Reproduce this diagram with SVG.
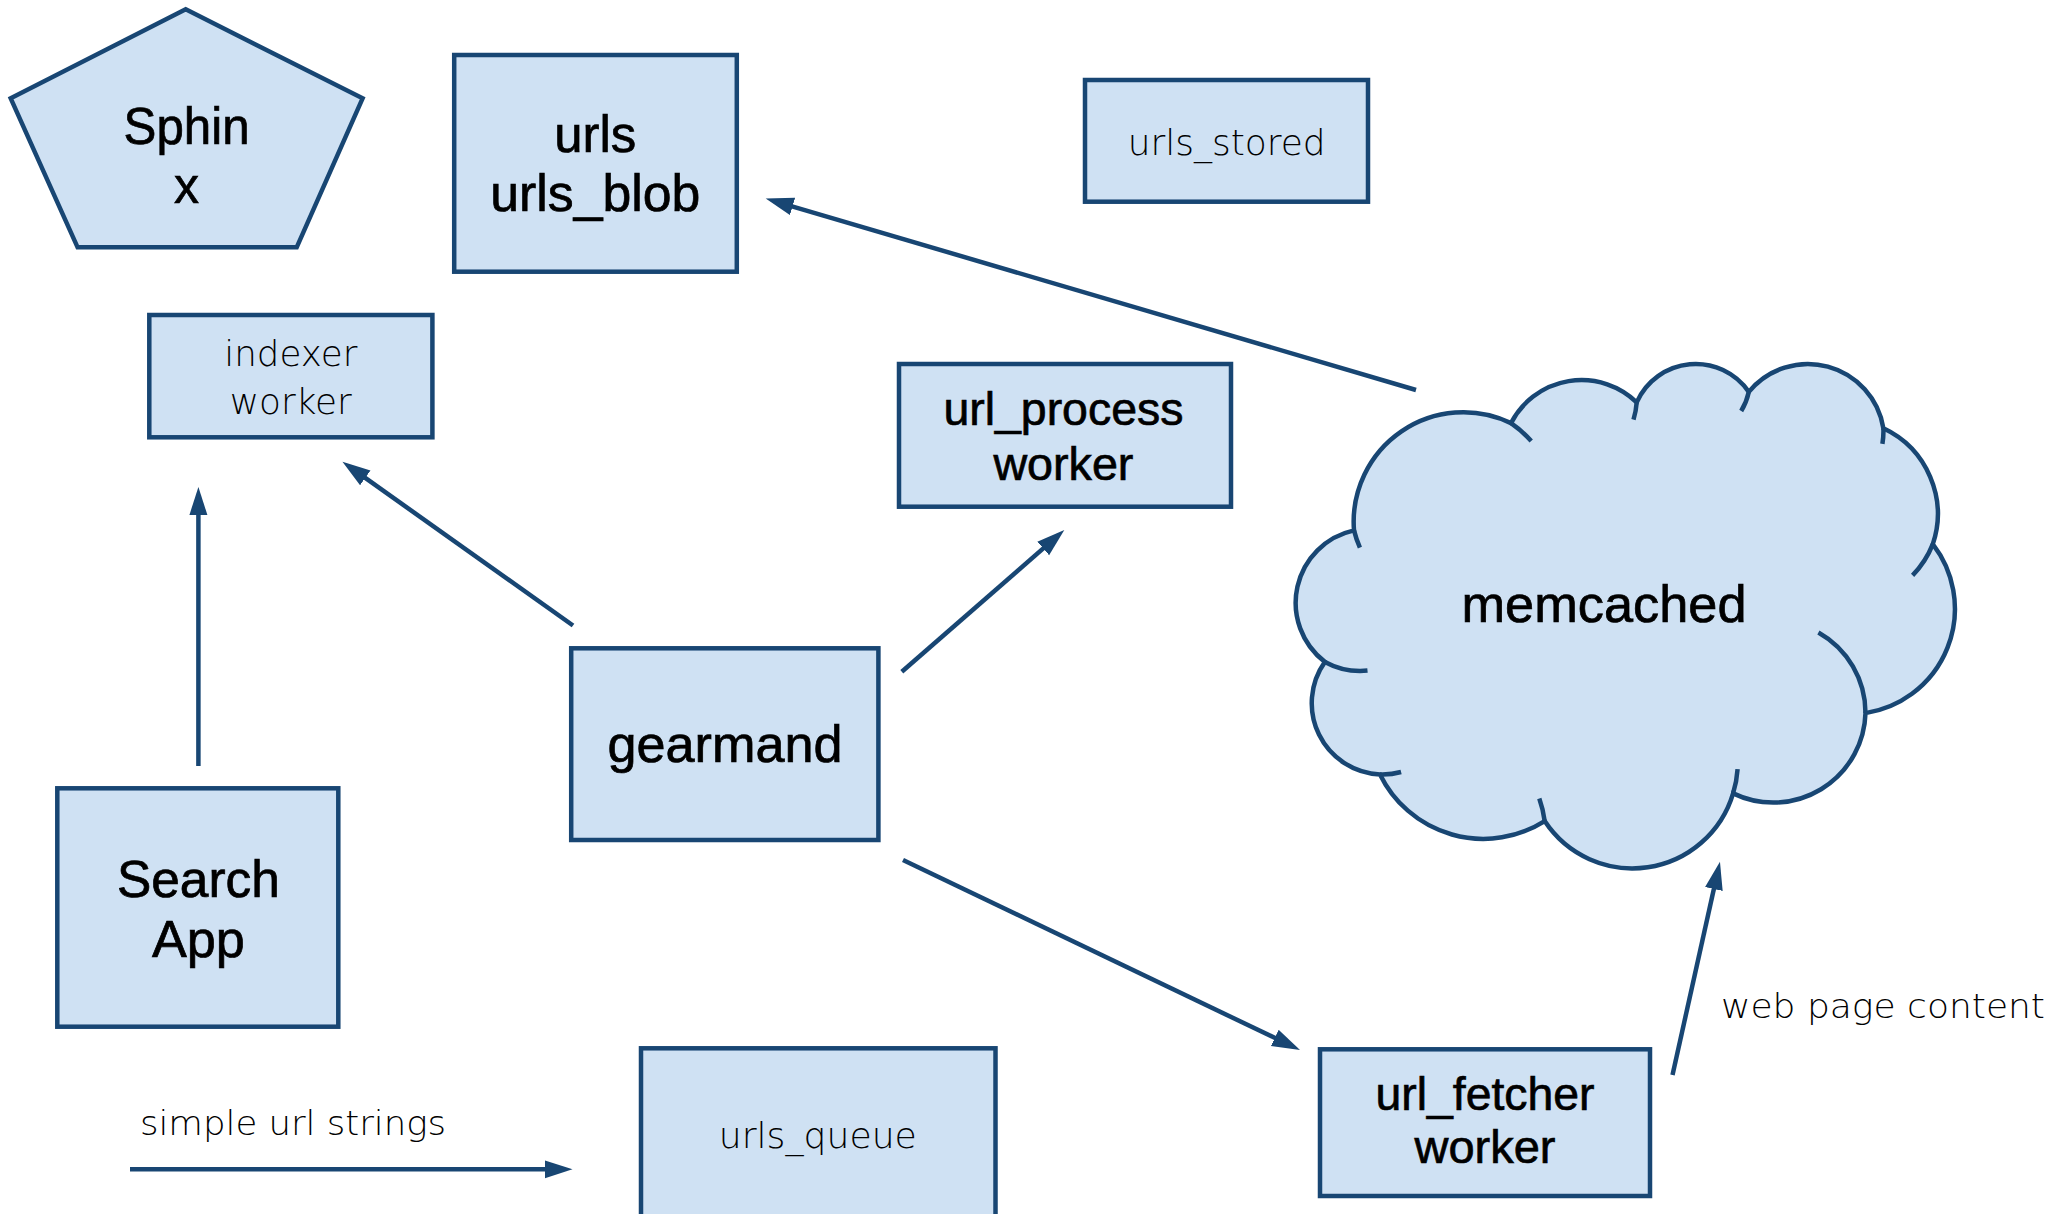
<svg xmlns="http://www.w3.org/2000/svg" width="2063" height="1214" viewBox="0 0 2063 1214">
<style>
.shape{fill:#cfe1f3;stroke:#184673;stroke-width:4.5;stroke-linejoin:miter}
.tick{fill:none;stroke:#184673;stroke-width:4.5;stroke-linecap:butt}
.main{font-family:"Liberation Sans",Arial,sans-serif;font-size:52px;fill:#000;stroke:#000;stroke-width:0.7;text-anchor:middle}
.mid{font-family:"Liberation Sans",Arial,sans-serif;font-size:47px;fill:#000;stroke:#000;stroke-width:0.7;text-anchor:middle}
.light{font-family:"DejaVu Sans",sans-serif;font-weight:300;font-size:35px;fill:#000;text-anchor:middle}
.lbl{font-family:"DejaVu Sans",sans-serif;font-weight:300;font-size:34px;fill:#000}
.conn{fill:none;stroke:#184673;stroke-width:4.5}
</style>
<defs>
<marker id="ah" markerUnits="userSpaceOnUse" markerWidth="30" markerHeight="20" refX="13" refY="9" orient="auto">
<path d="M0,0 L28,9 L0,18 z" fill="#184673"/>
</marker>
</defs>
<rect width="2063" height="1214" fill="#fff"/>
<g id="sphinx">
<polygon class="shape" points="185.7,9.3 362.6,98.3 296.7,247.3 77.6,247.3 10.7,98.3"/>
<text class="main" x="186.6" y="144" textLength="126" lengthAdjust="spacingAndGlyphs">Sphin</text>
<text class="main" x="186.6" y="203.3" textLength="25" lengthAdjust="spacingAndGlyphs">x</text>
</g>
<g id="urls_blob">
<rect class="shape" x="454.2" y="55" width="282.6" height="216.7"/>
<text class="main" x="595.3" y="151.7" textLength="82" lengthAdjust="spacingAndGlyphs">urls</text>
<text class="main" x="595.3" y="210.7" textLength="210" lengthAdjust="spacingAndGlyphs">urls_blob</text>
</g>
<g id="urls_stored">
<rect class="shape" x="1085" y="80" width="283" height="121.7"/>
<text class="light" x="1226.7" y="155" textLength="198" lengthAdjust="spacingAndGlyphs">urls_stored</text>
</g>
<g id="indexer_worker">
<rect class="shape" x="149.3" y="315" width="283.1" height="122.3"/>
<text class="light" x="290.8" y="365.7" textLength="133" lengthAdjust="spacingAndGlyphs">indexer</text>
<text class="light" x="290.8" y="414.3" textLength="122" lengthAdjust="spacingAndGlyphs">worker</text>
</g>
<g id="url_process_worker">
<rect class="shape" x="899" y="364" width="332" height="142.7"/>
<text class="mid" x="1063.4" y="425" textLength="240" lengthAdjust="spacingAndGlyphs">url_process</text>
<text class="mid" x="1063.4" y="480" textLength="140" lengthAdjust="spacingAndGlyphs">worker</text>
</g>
<g id="gearmand">
<rect class="shape" x="571.2" y="648.3" width="307.2" height="191.7"/>
<text class="main" x="725" y="761.7" textLength="235" lengthAdjust="spacingAndGlyphs">gearmand</text>
</g>
<g id="memcached">
<path class="shape" d="M1354,530.4 A109.7 109.7 0 0 1 1511,423.1 A79.4 79.4 0 0 1 1636.7,402.3 A64.5 64.5 0 0 1 1748.8,391.9 A76.5 76.5 0 0 1 1883.4,428.3 A94.7 94.7 0 0 1 1932.8,544.2 A105.5 105.5 0 0 1 1865.5,713.1 A92.3 92.3 0 0 1 1733.1,793.4 A105 105 0 0 1 1544.7,821.1 A115 115 0 0 1 1380,774.4 A71.3 71.3 0 0 1 1324.9,661.9 A74.2 74.2 0 0 1 1354,530.4 Z"/>
<path class="tick" d="M1359.9,547.7 A109.7 109.7 0 0 1 1354,530.4 M1511,423.1 A109.7 109.7 0 0 1 1531.2,441.1 M1636.7,402.3 A79.4 79.4 0 0 1 1633.5,419.6 M1748.8,391.9 A64.5 64.5 0 0 1 1741.2,411 M1883.4,428.3 A76.5 76.5 0 0 1 1882.4,443.8 M1932.8,544.2 A94.7 94.7 0 0 1 1912.6,575.4 M1818.4,632.5 A92.3 92.3 0 0 1 1865.5,713.1 M1737.6,769.2 A105 105 0 0 1 1733.1,793.4 M1539.3,798.6 A115 115 0 0 1 1544.7,821.1 M1401.1,772 A71.3 71.3 0 0 1 1380,774.4 M1367.5,670.6 A74.2 74.2 0 0 1 1324.9,661.9"/>
<text class="main" x="1604" y="622" textLength="285" lengthAdjust="spacingAndGlyphs">memcached</text>
</g>
<g id="search_app">
<rect class="shape" x="57.3" y="788.3" width="281" height="238.4"/>
<text class="main" x="198.4" y="896.7" textLength="163" lengthAdjust="spacingAndGlyphs">Search</text>
<text class="main" x="198.4" y="956.7" textLength="93" lengthAdjust="spacingAndGlyphs">App</text>
</g>
<g id="urls_queue">
<rect class="shape" x="641" y="1048.3" width="354.5" height="175"/>
<text class="light" x="817.8" y="1148.3" textLength="198" lengthAdjust="spacingAndGlyphs">urls_queue</text>
</g>
<g id="url_fetcher_worker">
<rect class="shape" x="1320" y="1049.3" width="330" height="146.7"/>
<text class="mid" x="1485" y="1110" textLength="219" lengthAdjust="spacingAndGlyphs">url_fetcher</text>
<text class="mid" x="1485" y="1163.3" textLength="141" lengthAdjust="spacingAndGlyphs">worker</text>
</g>
<g id="connectors">
<line class="conn" x1="198.4" y1="766" x2="198.4" y2="502" marker-end="url(#ah)"/>
<line class="conn" x1="573" y1="625.5" x2="354.7" y2="470.4" marker-end="url(#ah)"/>
<line class="conn" x1="901.8" y1="671.7" x2="1053" y2="539.9" marker-end="url(#ah)"/>
<line class="conn" x1="1416" y1="390" x2="780.1" y2="202.8" marker-end="url(#ah)"/>
<line class="conn" x1="903" y1="860" x2="1286.5" y2="1043.5" marker-end="url(#ah)"/>
<line class="conn" x1="1672.5" y1="1075" x2="1716.7" y2="876.3" marker-end="url(#ah)"/>
<line class="conn" x1="130" y1="1169.3" x2="557.5" y2="1169.3" stroke-width="6" marker-end="url(#ah)"/>
<text class="lbl" x="140" y="1135" textLength="306" lengthAdjust="spacingAndGlyphs">simple url strings</text>
<text class="lbl" x="1721" y="1018.3" textLength="324" lengthAdjust="spacingAndGlyphs">web page content</text>
</g>
</svg>
